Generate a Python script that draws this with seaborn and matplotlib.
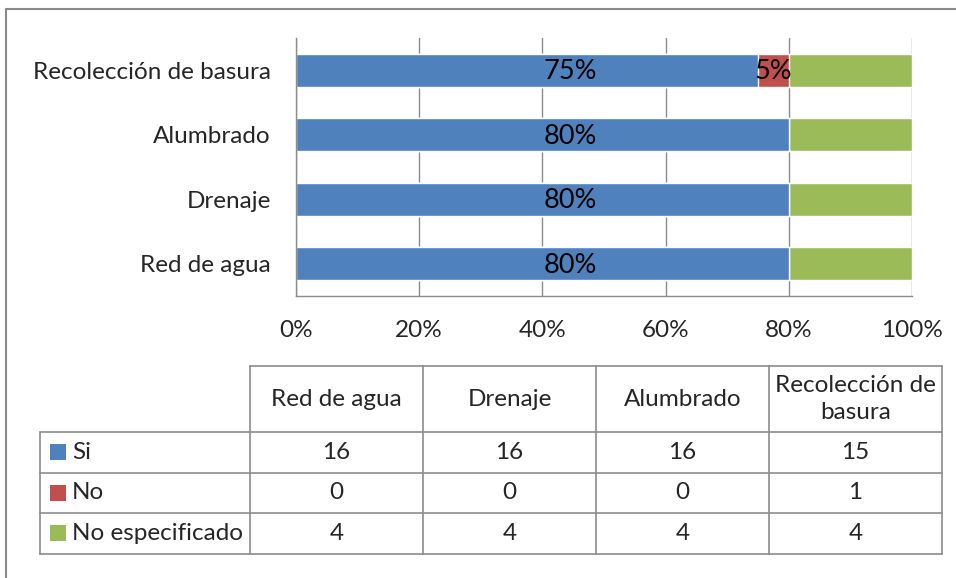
import matplotlib
matplotlib.use("Agg")
import matplotlib.pyplot as plt
from matplotlib.lines import Line2D
from matplotlib.patches import Rectangle
import numpy as np
import pandas as pd
import seaborn as sns

# Survey counts per public service
services = ["Red de agua", "Drenaje", "Alumbrado", "Recolección de basura"]
si = [16, 16, 16, 15]
no = [0, 0, 0, 1]
no_esp = [4, 4, 4, 4]
series_names = ["Si", "No", "No especificado"]
header_labels = ["Red de agua", "Drenaje", "Alumbrado", "Recolección de\nbasura"]
x_ticks = [0, 20, 40, 60, 80, 100]

colors = {"Si": "#4F81BD", "No": "#C0504D", "No especificado": "#9BBB59"}
grid_color = "#8C8C8C"

sns.set_theme(style="white")
plt.rcParams["font.family"] = ["Lato", "DejaVu Sans"]

FS = 17.5
W, H = 956, 578
fig = plt.figure(figsize=(W / 100, H / 100), dpi=100)

df = pd.DataFrame({"service": services, "si": si, "no": no, "no_esp": no_esp})
df["total"] = df["si"] + df["no"] + df["no_esp"]
df["p_si"] = df["si"] / df["total"] * 100
df["p_no"] = df["no"] / df["total"] * 100
df["p_si_no"] = df["p_si"] + df["p_no"]
df["p_all"] = df["p_si_no"] + df["no_esp"] / df["total"] * 100
order = services[::-1]  # top to bottom

# chart area
ax = fig.add_axes([296 / W, 1 - 296 / H, (912 - 296) / W, (296 - 38) / H])
bar_w = 0.51
sns.barplot(data=df, y="service", x="p_all", order=order, color=colors["No especificado"],
            width=bar_w, ax=ax, orient="h", saturation=1, zorder=3)
sns.barplot(data=df, y="service", x="p_si_no", order=order, color=colors["No"],
            width=bar_w, ax=ax, orient="h", saturation=1, zorder=3)
sns.barplot(data=df, y="service", x="p_si", order=order, color=colors["Si"],
            width=bar_w, ax=ax, orient="h", saturation=1, zorder=3)

ax.set_xlim(0, 100)
ax.set_ylim(3.5, -0.5)
ax.set_xticks(x_ticks)
ax.set_xticklabels([f"{t}%" for t in x_ticks], fontsize=FS)
ax.tick_params(axis="x", pad=17, length=0)
ax.tick_params(axis="y", length=0, pad=18, labelsize=FS)
ax.set_xlabel("")
ax.set_ylabel("")
ax.xaxis.grid(True, color=grid_color, linewidth=1)
ax.yaxis.grid(False)
ax.set_axisbelow(True)
for side in ["top", "right"]:
    ax.spines[side].set_visible(False)
for side in ["left", "bottom"]:
    ax.spines[side].set_color(grid_color)
    ax.spines[side].set_linewidth(1)
    ax.spines[side].set_zorder(4)

# value labels
for i, svc in enumerate(order):
    row = df[df["service"] == svc].iloc[0]
    ax.text(44.5, i + 0.02, f"{row['p_si']:.0f}%", ha="center", va="center",
            fontsize=19.5, color="black", zorder=5)
    if row["p_no"] > 0:
        ax.text(row["p_si"] + row["p_no"] / 2, i + 0.02, f"{row['p_no']:.0f}%",
                ha="center", va="center", fontsize=19.5, color="black", zorder=5)

# overlay in pixel coordinates for the data table and frame
ov = fig.add_axes([0, 0, 1, 1])
ov.set_xlim(0, W)
ov.set_ylim(H, 0)
ov.axis("off")
ov.patch.set_alpha(0)

lc = "#8C8C8C"
lw = 1.2
ov.add_line(Line2D([6, 6], [9, H], color="#8A8A8A", lw=1.5))
ov.add_line(Line2D([6, W], [9, 9], color="#8A8A8A", lw=1.5))

col_x = [40, 250, 423, 596, 769, 942]
row_y = [366, 432, 472.5, 513, 553.5]

# horizontal rules
ov.add_line(Line2D([col_x[1], col_x[-1]], [row_y[0]] * 2, color=lc, lw=lw))
for y in row_y[1:]:
    ov.add_line(Line2D([col_x[0], col_x[-1]], [y, y], color=lc, lw=lw))
# vertical rules
ov.add_line(Line2D([col_x[0]] * 2, [row_y[1], row_y[-1]], color=lc, lw=lw))
for x in col_x[1:]:
    ov.add_line(Line2D([x, x], [row_y[0], row_y[-1]], color=lc, lw=lw))

for j, lab in enumerate(header_labels):
    cx = (col_x[j + 1] + col_x[j + 2]) / 2
    ov.text(cx, (row_y[0] + row_y[1]) / 2, lab, ha="center", va="center",
            fontsize=FS, linespacing=1.35)

table_rows = [si, no, no_esp]
for r, (name, vals) in enumerate(zip(series_names, table_rows)):
    cy = (row_y[r + 1] + row_y[r + 2]) / 2
    ov.add_patch(Rectangle((50, cy - 8), 16, 16, color=colors[name], lw=0))
    ov.text(72, cy, name, ha="left", va="center", fontsize=FS)
    for j, v in enumerate(vals):
        cx = (col_x[j + 1] + col_x[j + 2]) / 2
        ov.text(cx, cy, str(v), ha="center", va="center", fontsize=FS)

fig.savefig("out.png", dpi=100)
